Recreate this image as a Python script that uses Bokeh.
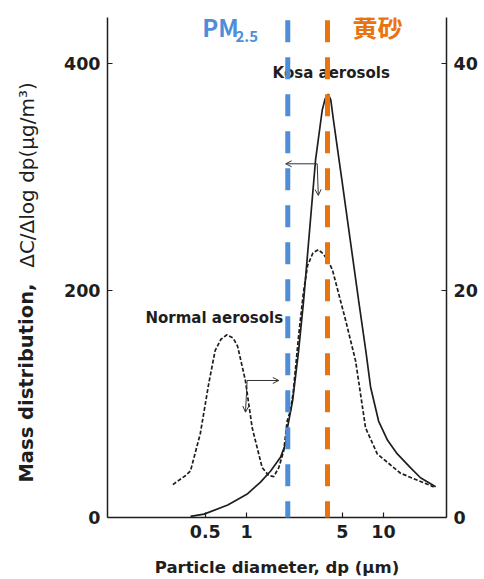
import math
from bokeh.plotting import figure
from bokeh.models import (Range1d, LinearAxis, FixedTicker, Label, Arrow,
                          OpenHead, CustomJSTickFormatter)
from bokeh.embed import file_html
from bokeh.resources import INLINE

# ---- data ----
kosa_dp = [0.39, 0.49, 0.73, 1.02, 1.26, 1.50, 1.77, 1.93, 1.99, 2.17, 2.40, 2.61,
           3.19, 3.57, 3.75, 3.95, 4.12, 4.31, 4.97, 5.72, 6.58, 7.42, 8.04, 9.2,
           10.7, 12.6, 15.7, 18.6, 24.0]
kosa_mass = [1, 3, 11, 21, 31, 41, 53, 65, 79, 103, 147, 191,
             315, 359, 369, 373, 368, 350, 297, 244, 191, 147, 115, 85,
             68, 56, 44, 35, 27]

normal_dp = [0.29, 0.36, 0.39, 0.46, 0.53, 0.59, 0.65, 0.72, 0.80, 0.86, 0.98, 1.10,
             1.30, 1.45, 1.58, 1.72, 1.87, 1.98, 2.09, 2.19, 2.40, 2.60, 2.79, 3.05,
             3.35, 3.65, 3.95, 4.24, 5.28, 6.25, 6.79, 7.39, 9.0, 13.3, 23.2]
normal_mass = [29, 37, 41, 74, 118, 147, 157, 161, 158, 151, 121, 79,
               44, 37, 36, 44, 59, 85, 94, 110, 160, 198, 222, 233,
               236, 232, 226, 218, 174, 138, 109, 79, 56, 39, 27]

pm25_line = 2.0      # position of the PM2.5 marker line on this scale
kosa_line = 3.9      # position of the 黄砂 marker line

x_ticks = [0.5, 1, 5, 10]
y_ticks_left = [0, 200, 400]
y_ticks_right = [0, 20, 40]

# ---- figure ----
INK = "#1e1e1e"
BLUE = "#4f8dd8"
ORANGE = "#e8740f"

p = figure(x_axis_type="log", x_range=Range1d(0.0967, 28.8), y_range=Range1d(0, 440.5),
           frame_width=339, frame_height=500,
           min_border_left=107, min_border_right=36, min_border_top=17, min_border_bottom=58,
           output_backend="svg", toolbar_location=None)
p.extra_y_ranges = {"right": Range1d(0, 44.05)}
p.outline_line_color = None
p.grid.visible = False
p.background_fill_color = "white"
p.border_fill_color = "white"

xa = p.xaxis[0]
xa.ticker = FixedTicker(ticks=x_ticks)
xa.formatter = CustomJSTickFormatter(code="return tick.toString()")
xa.axis_label = "Particle diameter, dp (µm)"
xa.axis_label_text_font = "DejaVu Sans"
xa.axis_label_text_font_style = "bold"
xa.axis_label_text_font_size = "16.5px"
xa.axis_label_text_color = INK
xa.axis_label_standoff = 17

ya = p.yaxis[0]
ya.ticker = FixedTicker(ticks=y_ticks_left)

ra = LinearAxis(y_range_name="right", ticker=FixedTicker(ticks=y_ticks_right))
p.add_layout(ra, "right")

for ax in [xa, ya, ra]:
    ax.axis_line_color = INK
    ax.axis_line_width = 1.5
    ax.major_tick_line_color = INK
    ax.major_tick_line_width = 1.2
    ax.major_tick_in = 5
    ax.major_tick_out = 0
    ax.minor_tick_line_color = None
    ax.major_label_text_font = "DejaVu Sans"
    ax.major_label_text_font_style = "bold"
    ax.major_label_text_font_size = "17.5px"
    ax.major_label_text_color = INK
    ax.major_label_standoff = 7

# ---- curves ----
p.line(normal_dp, normal_mass, line_color=INK, line_width=1.7, line_dash="4 2")
p.line(kosa_dp, kosa_mass, line_color=INK, line_width=1.7)

# ---- pointer arrows ----
def arrow(x0, y0, x1, y1):
    p.add_layout(Arrow(end=OpenHead(size=6, line_width=1, line_color="#333333"),
                       x_start=x0, y_start=y0, x_end=x1, y_end=y1,
                       line_color="#333333", line_width=1))

arrow(3.28, 311.6, 1.93, 311.6)
arrow(3.28, 311.6, 3.34, 283.7)
arrow(1.01, 120.7, 1.72, 120.7)
arrow(1.01, 120.7, 0.983, 92.8)

# ---- texts ----
def label(x, y, text, size, font="DejaVu Sans", style="bold", color=INK,
          align="left", baseline="alphabetic", angle=0, place=None):
    lab = Label(x=x, y=y, text=text, text_font=font, text_font_style=style,
                text_font_size=size, text_color=color, text_align=align,
                text_baseline=baseline, angle=angle)
    if place:
        p.add_layout(lab, place)
    else:
        p.add_layout(lab)

label(1.55, 392.0, "Kosa aerosols", "15px")
label(0.183, 175.5, "Normal aerosols", "15px")
label(0.475, 432.5, "PM", "24px", font="Noto Sans CJK JP", color=BLUE)
label(0.83, 423.5, "2.5", "15px", font="Noto Sans CJK JP", color=BLUE)
label(5.94, 433.0, "黄砂", "25px", font="Noto Sans CJK JP", color=ORANGE, baseline="middle")

label(0.0248, 30.8, "Mass distribution,", "19.5px", angle=math.pi / 2, place="left")
label(0.0248, 220.0, "ΔC/Δlog dp(µg/m³)", "20px", style="normal", angle=math.pi / 2,
      place="left")

# ---- marker lines, drawn over the text as in the reference ----
p.add_layout(Arrow(end=None, x_start=pm25_line, y_start=438, x_end=pm25_line, y_end=-27,
                   line_color=BLUE, line_width=5, line_dash="22 15"))
p.add_layout(Arrow(end=None, x_start=kosa_line, y_start=438, x_end=kosa_line, y_end=-24,
                   line_color=ORANGE, line_width=5, line_dash="22 15"))

open("out.html", "w").write(file_html(p, INLINE))
